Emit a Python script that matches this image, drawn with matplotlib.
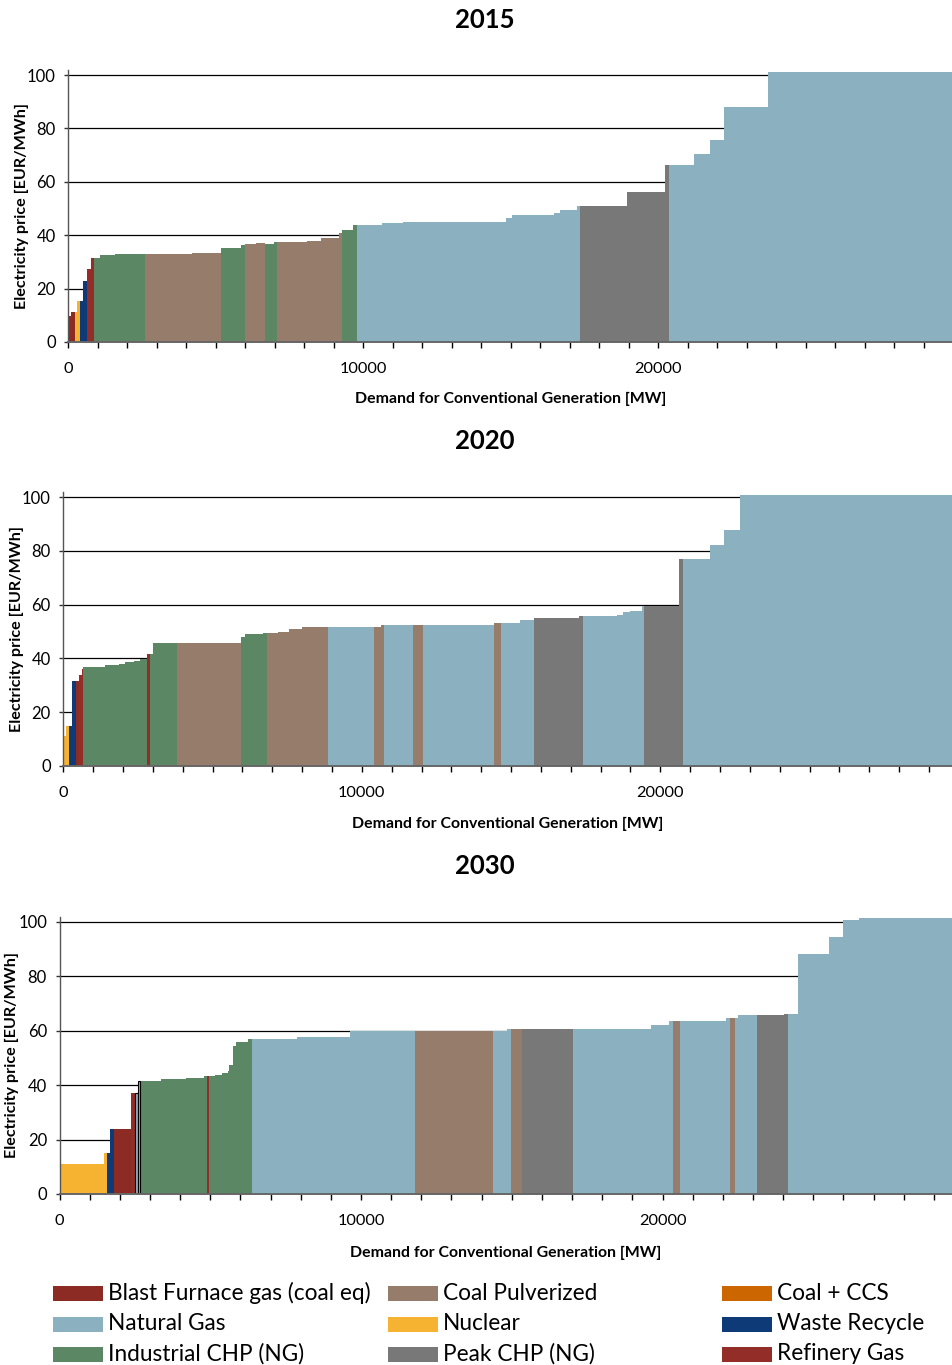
import matplotlib
matplotlib.use("Agg")
import matplotlib.pyplot as plt
from matplotlib.patches import Rectangle
from matplotlib.ticker import FixedLocator, MultipleLocator

plt.rcParams["font.family"] = ["Lato", "DejaVu Sans"]

# ---------------------------------------------------------------------------
# Merit-order data: block boundaries [MW], block price [EUR/MWh], technology
# ---------------------------------------------------------------------------
years = ["2015", "2020", "2030"]

bounds_2015 = [0, 90, 226, 294, 396, 497, 633, 768, 870, 1073, 1582, 2599, 4181,
               5175, 5853, 5989, 6362, 6667, 6960, 7073, 8079, 8565, 9176, 9278,
               9651, 9787, 10634, 11346, 14838, 15041, 16464, 16668, 17244, 17346,
               18939, 20227, 20363, 21210, 21753, 22227, 23719, 30000]
price_2015 = [9.6, 11.1, 11.1, 15.2, 15.2, 22.7, 27.2, 31.6, 31.6, 32.4, 32.8, 32.8,
              33.5, 35.3, 36.5, 36.6, 36.9, 36.8, 37.6, 37.6, 38.0, 38.8, 41.0, 42.1,
              44.0, 44.0, 44.4, 45.1, 46.6, 47.7, 48.5, 49.6, 51.1, 51.1, 56.0, 66.2,
              66.2, 70.3, 75.6, 88.0, 101.1]
tech_2015 = ["BF", "BF", "NU", "NU", "WR", "WR", "RG", "RG", "CHP", "CHP", "CHP", "CP",
             "CP", "CHP", "CHP", "CP", "CP", "CHP", "CHP", "CP", "CP", "CP", "CP", "CHP",
             "CHP", "NG", "NG", "NG", "NG", "NG", "NG", "NG", "NG", "PK", "PK", "PK",
             "NG", "NG", "NG", "NG", "NG"]

bounds_2020 = [0, 89, 190, 291, 425, 536, 626, 670, 1408, 1877, 2067, 2380, 2570,
               2793, 2905, 3017, 3810, 5955, 6089, 6704, 6827, 7184, 7564, 7997, 8868,
               10409, 10644, 10744, 11715, 12050, 14413, 14648, 15287, 15758, 17271,
               17406, 18549, 18751, 18987, 19390, 19457, 20635, 20769, 21677, 22148,
               22686, 30000]
price_2020 = [11.1, 14.8, 14.8, 31.5, 31.5, 33.7, 36.2, 36.7, 37.4, 37.9, 38.6, 39.0,
              39.8, 41.6, 41.6, 45.7, 45.9, 47.8, 49.0, 49.3, 49.3, 50.0, 51.1, 51.7,
              51.7, 51.7, 52.4, 52.4, 52.4, 52.4, 53.0, 53.0, 54.4, 55.2, 55.6, 55.6,
              56.3, 57.4, 57.8, 59.6, 59.6, 77.0, 77.0, 82.2, 87.8, 100.7]
tech_2020 = ["NU", "NU", "WR", "WR", "BF", "RG", "RG", "CHP", "CHP", "CHP", "CHP", "CHP",
             "CHP", "RG", "CHP", "CHP", "CP", "CHP", "CHP", "CHP", "CP", "CP", "CP", "CP",
             "NG", "CP", "CP", "NG", "CP", "NG", "CP", "NG", "NG", "PK", "PK", "NG",
             "NG", "NG", "NG", "NG", "PK", "PK", "NG", "NG", "NG", "NG"]

bounds_2030 = [0, 1492, 1580, 1691, 1808, 2371, 2504, 2590, 2670, 3381, 4210, 4785,
               4906, 4972, 5171, 5403, 5602, 5635, 5768, 5867, 6265, 6398, 7877, 9635,
               11794, 14367, 14842, 14971, 15346, 17028, 19622, 20216, 20345, 20578,
               22109, 22236, 22412, 22505, 23135, 24036, 24162, 24501, 25529, 25987,
               26524, 30000]
price_2030 = [10.9, 15.0, 15.0, 23.9, 23.9, 37.1, 37.1, 41.5, 41.5, 42.3, 42.6, 43.4,
              43.4, 43.4, 43.7, 44.5, 45.2, 47.4, 54.4, 55.9, 57.0, 57.0, 57.7, 59.9,
              59.9, 59.9, 60.7, 60.7, 60.7, 60.7, 62.2, 63.6, 63.6, 63.6, 64.7, 64.7,
              64.7, 65.8, 65.8, 66.2, 66.2, 88.3, 94.6, 100.9, 101.6]
tech_2030 = ["NU", "NU", "WR", "WR", "BF", "RG", "NGo", "NGo", "CHP", "CHP", "CHP",
             "CHP", "RG", "CHP", "CHP", "CHP", "CHP", "CHP", "CHP", "CHP", "CHP", "NG",
             "NG", "NG", "CP", "NG", "NG", "CP", "PK", "NG", "NG", "NG", "CP", "NG",
             "NG", "CP", "NG", "NG", "PK", "PK", "NG", "NG", "NG", "NG", "NG"]

# Legend entries, in display order (three columns, filled row by row)
legend_codes = ["BF", "CP", "CCS", "NG", "NU", "WR", "CHP", "PK", "RG"]
legend_labels = ["Blast Furnace gas (coal eq)", "Coal Pulverized", "Coal + CCS",
                 "Natural Gas", "Nuclear", "Waste Recycle",
                 "Industrial CHP (NG)", "Peak CHP (NG)", "Refinery Gas"]

colors = {
    "BF": "#8C2B24",
    "CP": "#957C6B",
    "CCS": "#CC6600",
    "NG": "#8BB1C0",
    "NGo": "#8BB1C0",
    "NU": "#F6B332",
    "WR": "#0E3A78",
    "CHP": "#5C8764",
    "PK": "#787878",
    "RG": "#922E27",
}

# ---------------------------------------------------------------------------
# Layout (pixel geometry of the 952 x 1365 canvas)
# ---------------------------------------------------------------------------
W, H = 952, 1365
fig = plt.figure(figsize=(W / 100, H / 100), dpi=100)

YMAX = 102.0
panels = [
    # left px, zero-line px, px per EUR/MWh, px per MW, title y, ylabel x, xlabel y
    dict(left=68.3, y0=342.0, uy=2.67, ux=0.02950, ty=20, ylx=22, xly=399),
    dict(left=63.3, y0=766.0, uy=2.69, ux=0.02985, ty=441, ylx=17, xly=824),
    dict(left=59.5, y0=1194.0, uy=2.72, ux=0.03015, ty=866, ylx=12, xly=1253),
]
series = [(bounds_2015, price_2015, tech_2015),
          (bounds_2020, price_2020, tech_2020),
          (bounds_2030, price_2030, tech_2030)]

for year, p, (bnd, prc, tec) in zip(years, panels, series):
    top = p["y0"] - YMAX * p["uy"]
    ax = fig.add_axes([p["left"] / W, 1 - p["y0"] / H,
                       (W - p["left"]) / W, (p["y0"] - top) / H])
    ax.set_xlim(0, (W - p["left"]) / p["ux"])
    ax.set_ylim(0, YMAX)

    lefts = bnd[:-1]
    widths = [b - a for a, b in zip(bnd[:-1], bnd[1:])]
    for x, w, h, t in zip(lefts, widths, prc, tec):
        c = colors[t]
        if t == "NGo":
            ax.bar(x, h, w, align="edge", color=c, edgecolor="black",
                   linewidth=0.8, zorder=3)
        else:
            ax.bar(x, h, w, align="edge", color=c, linewidth=0,
                   antialiased=False, zorder=2)

    # horizontal gridlines behind the blocks
    ax.set_yticks([0, 20, 40, 60, 80, 100])
    for gy in [20, 40, 60, 80, 100]:
        ax.axhline(gy, color="black", lw=0.9, zorder=1)

    ax.xaxis.set_major_locator(FixedLocator([0, 10000, 20000, 30000]))
    ax.xaxis.set_minor_locator(MultipleLocator(1000))
    ax.set_xticklabels(["0", "10000", "20000", "30000"])
    ax.tick_params(axis="x", which="both", direction="out", length=4.5,
                   width=1.0, color="black", pad=10, labelsize=11.8)
    ax.tick_params(axis="y", direction="out", length=3, width=1.0,
                   color="#333333", pad=6, labelsize=12)

    for s in ["top", "right"]:
        ax.spines[s].set_visible(False)
    ax.spines["left"].set_color("#555555")
    ax.spines["left"].set_linewidth(1.0)
    ax.spines["bottom"].set_color("#666666")
    ax.spines["bottom"].set_linewidth(1.4)
    ax.spines["left"].set_zorder(4)
    ax.spines["bottom"].set_zorder(4)

    fig.text(485 / W, 1 - p["ty"] / H, year, ha="center", va="center",
             fontsize=18.5, fontweight="bold")
    fig.text(p["ylx"] / W, 1 - ((p["y0"] + top) / 2) / H,
             "Electricity price [EUR/MWh]", rotation=90, ha="center",
             va="center", fontsize=11.6, fontweight="bold")
    fig.text((p["left"] + W) / 2 / W, 1 - p["xly"] / H,
             "Demand for Conventional Generation [MW]", ha="center",
             va="center", fontsize=11.4, fontweight="bold")

# ---------------------------------------------------------------------------
# Legend: three columns of colour swatches with labels
# ---------------------------------------------------------------------------
col_x = [53, 388, 722]
row_y = [1293, 1324, 1354]
for i, (code, label) in enumerate(zip(legend_codes, legend_labels)):
    cx = col_x[i % 3]
    cy = row_y[i // 3]
    fig.add_artist(Rectangle((cx / W, 1 - (cy + 7.5) / H), 50 / W, 15 / H,
                             transform=fig.transFigure, facecolor=colors[code],
                             edgecolor="none"))
    fig.text((cx + 55) / W, 1 - cy / H, label, ha="left", va="center",
             fontsize=16.3)

fig.savefig("out.png", dpi=100)
